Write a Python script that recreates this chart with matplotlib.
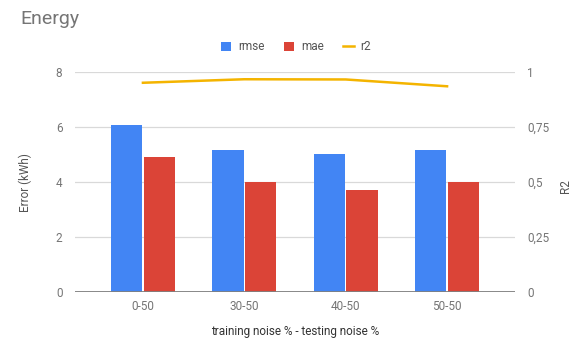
import matplotlib
matplotlib.use("Agg")
import matplotlib.pyplot as plt
import numpy as np

categories = ["0-50", "30-50", "40-50", "50-50"]
rmse = [6.06, 5.16, 5.0, 5.16]
mae = [4.92, 4.0, 3.72, 3.98]
r2 = [0.951, 0.967, 0.966, 0.935]
left_ticks = [0, 2, 4, 6, 8]
right_ticks = [0, 0.25, 0.5, 0.75, 1]
right_tick_labels = ["0", "0,25", "0,5", "0,75", "1"]

plt.rcParams["font.family"] = ["Roboto", "DejaVu Sans"]
BLUE, RED, YELLOW = "#4285F4", "#DB4437", "#F4B400"
TXT = "#757575"
GRID = "#d9d9d9"

fig = plt.figure(figsize=(5.72, 3.45), dpi=100)
ax = fig.add_axes([75 / 572, 1 - 291.7 / 345, 440 / 572, 219.7 / 345])
ax2 = ax.twinx()

x = np.arange(len(categories))
w = 0.31
gap = 0.006
ax.bar(x - w / 2 - gap, rmse, width=w, color=BLUE, label="rmse", zorder=3)
ax.bar(x + w / 2 + gap, mae, width=w, color=RED, label="mae", zorder=3)
ax2.plot(x, r2, color=YELLOW, lw=1.8, label="r2", zorder=4)

ax.set_xlim(-0.67, 3.67)
ax.set_ylim(0, 8)
ax2.set_ylim(0, 1)
ax.set_yticks(left_ticks)
ax2.set_yticks(right_ticks)
ax2.set_yticklabels(right_tick_labels)
ax.set_xticks(x)
ax.set_xticklabels(categories)

for a in (ax, ax2):
    for s in a.spines.values():
        s.set_visible(False)
    a.tick_params(length=0, colors=TXT, labelsize=8.5)
ax.tick_params(axis="y", pad=9)
ax2.tick_params(axis="y", pad=9)
ax.tick_params(axis="x", pad=6)

ax.yaxis.grid(True, color=GRID, lw=0.9, zorder=0)
ax.set_axisbelow(True)
ax.axhline(0, color="#808080", lw=1.3, zorder=5)

fig.text(25 / 572, 1 - 183 / 345, "Error (kWh)", color="#555555", fontsize=8.5,
         rotation=90, ha="center", va="center")
fig.text(565 / 572, 1 - 186 / 345, "R2", color="#555555", fontsize=8.5,
         rotation=90, ha="center", va="center")
fig.text(295 / 572, 1 - 331 / 345, "training noise % - testing noise %",
         color="#333333", fontsize=8.5, ha="center", va="center")

fig.text(20 / 572, 1 - 19 / 345, "Energy", color="#757575", fontsize=14,
         va="center", ha="left")

h1, l1 = ax.get_legend_handles_labels()
h2, l2 = ax2.get_legend_handles_labels()
leg = fig.legend(h1 + h2, l1 + l2, loc="center", bbox_to_anchor=(296 / 572, 1 - 47 / 345),
                 ncol=3, frameon=False, fontsize=8.5, handlelength=0.9,
                 handleheight=0.9, handletextpad=0.6, columnspacing=1.6)
for t in leg.get_texts():
    t.set_color("#555555")

fig.savefig("out.png", dpi=100)
